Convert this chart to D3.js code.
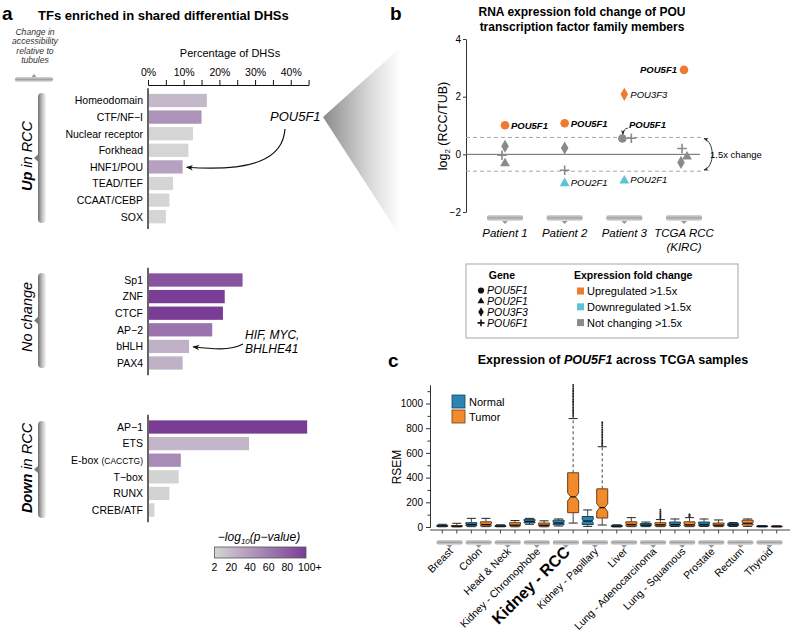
<!DOCTYPE html>
<html><head><meta charset="utf-8">
<script src="https://cdn.jsdelivr.net/npm/d3@7"></script>
<style>
body{margin:0;background:#fff;}
svg{display:block;font-family:"Liberation Sans",Arial,Helvetica,sans-serif;}
</style></head><body>
<svg id="fig" width="791" height="639"></svg>
<script>
// ---------------- DATA ----------------
// Panel a
const upCats = ["Homeodomain","CTF/NF\u2212I","Nuclear receptor","Forkhead","HNF1/POU","TEAD/TEF","CCAAT/CEBP","SOX"];
const upPct = [16.5, 15.0, 12.6, 11.3, 9.7, 7.0, 6.0, 5.0];
const upLogP = [20, 45, 2, 2, 35, 2, 2, 2];
const noCats = ["Sp1","ZNF","CTCF","AP\u22122","bHLH","PAX4"];
const noPct = [26.5, 21.5, 21.0, 18.0, 11.5, 9.7];
const noLogP = [85, 100, 100, 65, 25, 25];
const downCats = ["AP\u22121","ETS","E-box","T\u2212box","RUNX","CREB/ATF"];
const downPct = [44.6, 28.3, 9.2, 8.6, 6.0, 1.8];
const downLogP = [100, 22, 50, 3, 3, 3];
const pctTicks = [0, 10, 20, 30, 40];
const logPTicks = [2, 20, 40, 60, 80, 100];

// Panel b
const samples = ["Patient 1","Patient 2","Patient 3","TCGA RCC"];
const genes = ["POU5F1","POU2F1","POU3F3","POU6F1"];
const foldPOU5F1 = [1.01, 1.08, 0.55, 2.93];
const foldPOU2F1 = [-0.28, -0.97, -0.88, -0.05];
const foldPOU3F3 = [0.28, 0.22, 2.08, -0.28];
const foldPOU6F1 = [-0.03, -0.55, 0.56, 0.20];
const foldTicks = [-2, 0, 2, 4];

// Panel c  [low whisker, q1, median, q3, high whisker]
const tissues = ["Breast","Colon","Head & Neck","Kidney - Chromophobe","Kidney - RCC","Kidney - Papillary","Liver","Lung - Adenocarcinoma","Lung - Squamous","Prostate","Rectum","Thyroid"];
const normalStats = [[2,5,9,14,22],[3,10,20,35,70],[2,4,7,11,18],[22,33,45,62,70],[8,18,32,55,65],[5,20,48,85,138],[1,3,6,12,18],[3,8,15,28,40],[4,10,20,40,65],[4,10,20,40,65],[4,11,18,28,36],[1,3,5,8,12]];
const tumorStats = [[1,3,6,12,30],[3,8,20,42,70],[2,8,15,35,52],[2,8,14,32,50],[32,116,244,439,878],[16,73,157,309,650],[3,8,20,42,76],[3,8,18,35,60],[3,8,18,42,76],[3,8,15,32,57],[5,16,30,55,65],[1,2,4,6,10]];
const outliersKidneyRCC = [892,906,919,931,944,956,969,981,994,1006,1019,1031,1044,1057,1069,1082,1095,1108,1121,1135,1150];
const outliersKidneyPap = [662,674,687,699,712,724,737,750,763,777,791,806,821,835,848];
const outliersLungAdeno = [66,76,86,95,106,114,126,140];
const outliersLungSq = [82,89,96,103];
const rsemTicks = [0, 200, 400, 600, 800, 1000];

// ---------------- SETUP ----------------
const svg = d3.select("#fig");
const defs = svg.append("defs");
function grad(id, x2, y2, stops){
  const g = defs.append("linearGradient").attr("id", id).attr("x1",0).attr("y1",0).attr("x2",x2).attr("y2",y2);
  stops.forEach(s => g.append("stop").attr("offset", s[0]).attr("stop-color", s[1]).attr("stop-opacity", s[2]===undefined?1:s[2]));
}
grad("gV", 1, 0, [[0,"#6f6f6f"],[0.45,"#b8b8b8"],[1,"#f6f6f6"]]);
grad("gH", 0, 1, [[0,"#d8d8d8"],[0.5,"#a3a3a3"],[1,"#e6e6e6"]]);
grad("gWedge", 1, 0, [[0,"#8a8a8a"],[0.6,"#d8d8d8"],[1,"#ffffff"]]);
const arrowM = defs.append("marker").attr("id","arr").attr("viewBox","0 0 10 10").attr("refX",9).attr("refY",5)
  .attr("markerWidth",7).attr("markerHeight",7).attr("orient","auto-start-reverse").attr("markerUnits","userSpaceOnUse");
arrowM.append("path").attr("d","M0,1 L10,5 L0,9 L3,5 Z").attr("fill","#111");
const arrowS = defs.append("marker").attr("id","arrs").attr("viewBox","0 0 10 10").attr("refX",9).attr("refY",5)
  .attr("markerWidth",5).attr("markerHeight",5).attr("orient","auto-start-reverse").attr("markerUnits","userSpaceOnUse");
arrowS.append("path").attr("d","M0,1 L10,5 L0,9 L3,5 Z").attr("fill","#222");

function hBracket(g, cx, y, w, h, up){
  g.append("rect").attr("x",cx-w/2).attr("y",y).attr("width",w).attr("height",h).attr("rx",2).attr("fill","url(#gH)");
  if(up) g.append("path").attr("d",`M${cx-2.5},${y} L${cx},${y-3} L${cx+2.5},${y}Z`).attr("fill","#9a9a9a");
  else g.append("path").attr("d",`M${cx-3},${y+h} L${cx},${y+h+3} L${cx+3},${y+h}Z`).attr("fill","#9a9a9a");
}
function vBrace(g, x, top, bot){
  g.append("rect").attr("x",x).attr("y",top).attr("width",8).attr("height",bot-top).attr("rx",4).attr("fill","url(#gV)");
  const m=(top+bot)/2;
  g.append("path").attr("d",`M${x+0.5},${m-4} L${x-4},${m} L${x+0.5},${m+4}Z`).attr("fill","#7a7a7a");
}

// ---------------- PANEL A ----------------
const A = svg.append("g");
A.append("text").attr("x",2).attr("y",20).attr("font-size",19).attr("font-weight","bold").text("a");
A.append("text").attr("x",38).attr("y",20).attr("font-size",13).attr("font-weight","bold").text("TFs enriched in shared differential DHSs");
["Change in","accessibility","relative to","tubules"].forEach((t,i)=>
  A.append("text").attr("x",35).attr("y",35+i*9.4).attr("text-anchor","middle").attr("font-size",8.6).attr("font-style","italic").attr("fill","#333").text(t));
hBracket(A, 34, 77, 38, 5, true);
A.append("text").attr("x",230).attr("y",57).attr("text-anchor","middle").attr("font-size",11).text("Percentage of DHSs");

// wedge toward panel b
A.append("path").attr("d","M323,117 L400,48 L400,236 Z").attr("fill","url(#gWedge)");

const xA = d3.scaleLinear().domain([0,45]).range([148, 308.6]);
const pColor = d3.scaleLinear().domain([2,100]).range(["#d5d5d5","#7a3d96"]).clamp(true);

A.append("g").attr("transform","translate(0,85)")
  .call(d3.axisTop(xA).tickValues(pctTicks).tickFormat(d=>d+"%").tickSize(5).tickSizeOuter(0).tickPadding(4));
A.append("g").attr("transform","translate(0,85)")
  .call(d3.axisTop(xA).tickValues([5,15,25,35,45]).tickFormat("").tickSize(5).tickSizeOuter(0));
A.selectAll(".tick text").attr("font-size",10.5).attr("font-family","Liberation Sans, Arial, sans-serif");
A.selectAll(".domain, .tick line").attr("stroke","#111");

function barGroup(cats, pct, lp, top){
  const y = d3.scaleBand().domain(cats).range([top, top + cats.length*16.6]).paddingInner(0.2).paddingOuter(0.1);
  const g = A.append("g");
  g.selectAll("rect.bar").data(cats).join("rect").attr("class","bar")
    .attr("x", xA(0)+1).attr("y", d=>y(d)).attr("height", y.bandwidth())
    .attr("width", (d,i)=> xA(pct[i]) - xA(0) - 1).attr("fill", (d,i)=> pColor(lp[i]));
  g.selectAll("text.lab").data(cats).join("text").attr("class","lab")
    .attr("x",143).attr("y", d=> y(d)+y.bandwidth()/2+3.8).attr("text-anchor","end").attr("font-size",10.5)
    .each(function(d){
      const t=d3.select(this);
      t.text(d);
      if(d==="E-box"){ t.text("E-box "); t.append("tspan").attr("font-size",8.5).text("(CACCTG)"); }
    });
  g.append("line").attr("x1",xA(0)).attr("x2",xA(0)).attr("y1",top-4).attr("y2",top+cats.length*16.6+4).attr("stroke","#111").attr("stroke-width",1.3);
  return y;
}
const yUp = barGroup(upCats, upPct, upLogP, 92.2);
const yNo = barGroup(noCats, noPct, noLogP, 271.7);
const yDown = barGroup(downCats, downPct, downLogP, 418.7);

vBrace(A, 38, 93, 223);
vBrace(A, 38, 273, 368);
vBrace(A, 38, 421, 518);
function sideLabel(cy, bold, rest){
  const t = A.append("text").attr("transform",`translate(32,${cy}) rotate(-90)`).attr("text-anchor","middle").attr("font-size",14.5).attr("font-style","italic");
  if(bold) t.append("tspan").attr("font-weight","bold").text(bold+" ");
  t.append("tspan").text(rest);
}
sideLabel(156, "Up", "in RCC");
sideLabel(317, null, "No change");
sideLabel(468, "Down", "in RCC");

A.append("text").attr("x",270).attr("y",121).attr("font-size",13).attr("font-style","italic").text("POU5F1");
A.append("path").attr("d",`M285,129 C283,158 255,172 ${xA(upPct[4])+4},${yUp("HNF1/POU")+7}`).attr("fill","none").attr("stroke","#111").attr("stroke-width",1.2).attr("marker-end","url(#arr)");
A.append("text").attr("x",245).attr("y",339).attr("font-size",12).attr("font-style","italic").text("HIF, MYC,");
A.append("text").attr("x",245).attr("y",353).attr("font-size",12).attr("font-style","italic").text("BHLHE41");
A.append("path").attr("d",`M243,344 C230,351 212,349 ${xA(noPct[4])+4},${yNo("bHLH")+7}`).attr("fill","none").attr("stroke","#111").attr("stroke-width",1.2).attr("marker-end","url(#arr)");

// color legend
const lgX = d3.scaleLinear().domain([2,100]).range([214.5,306]);
grad("gLeg", 1, 0, d3.range(0,1.01,0.1).map(t=>[t, pColor(2+98*t)]));
const tl = A.append("text").attr("x",259).attr("y",541).attr("text-anchor","middle").attr("font-size",12).attr("font-style","italic");
tl.append("tspan").text("\u2212log");
tl.append("tspan").attr("font-size",8).attr("dy",3).text("10");
tl.append("tspan").attr("dy",-3).text("(p\u2212value)");
A.append("rect").attr("x",lgX(2)).attr("y",547).attr("width",lgX(100)-lgX(2)).attr("height",11).attr("fill","url(#gLeg)").attr("stroke","#555").attr("stroke-width",0.8);
A.selectAll("text.lgt").data(logPTicks).join("text").attr("class","lgt")
  .attr("x", d=> d===100 ? lgX(d)-8 : lgX(d)).attr("y",571).attr("font-size",10.5)
  .attr("text-anchor", d=> d===100 ? "start":"middle").text(d=> d===100 ? "100+" : d);

// ---------------- PANEL B ----------------
const B = svg.append("g");
B.append("text").attr("x",390).attr("y",20).attr("font-size",19).attr("font-weight","bold").text("b");
B.append("text").attr("x",582).attr("y",16).attr("text-anchor","middle").attr("font-size",12).attr("font-weight","bold").text("RNA expression fold change of POU");
B.append("text").attr("x",582).attr("y",31).attr("text-anchor","middle").attr("font-size",12).attr("font-weight","bold").text("transcription factor family members");

const xB = d3.scalePoint().domain(samples).range([505, 684]);
const yB = d3.scaleLinear().domain([-2,4]).range([212, 39]);
const axB = B.append("g").attr("transform","translate(466,0)").call(d3.axisLeft(yB).tickValues(foldTicks).tickFormat(d3.format("d")).tickSize(3).tickSizeOuter(0).tickPadding(2));
axB.selectAll("text").attr("font-size",10).attr("font-family","Liberation Sans, Arial, sans-serif");
axB.selectAll(".domain, .tick line").attr("stroke","#333");
const yl = B.append("text").attr("transform","translate(447,126) rotate(-90)").attr("text-anchor","middle").attr("font-size",12.5);
yl.append("tspan").text("log");
yl.append("tspan").attr("font-size",8).attr("dy",3).text("2");
yl.append("tspan").attr("dy",-3).text(" (RCC/TUB)");

const thr = Math.log2(1.5);
B.append("line").attr("x1",466).attr("x2",700).attr("y1",yB(0)).attr("y2",yB(0)).attr("stroke","#666").attr("stroke-width",1);
[thr,-thr].forEach(v=> B.append("line").attr("x1",466).attr("x2",703).attr("y1",yB(v)).attr("y2",yB(v)).attr("stroke","#a8a8a8").attr("stroke-dasharray","4,3").attr("stroke-width",1));
B.append("path").attr("d",`M704,${yB(thr)+1} C715,${yB(thr)+5} 715,${yB(-thr)-5} 704,${yB(-thr)-1}`).attr("fill","none").attr("stroke","#222").attr("stroke-width",0.9)
  .attr("marker-start","url(#arrs)").attr("marker-end","url(#arrs)");
B.append("text").attr("x",710).attr("y",158).attr("font-size",9.5).text("1.5x change");

samples.forEach(s=> hBracket(B, xB(s), 215, 36, 6, false));
samples.forEach(s=>{
  B.append("text").attr("x",xB(s)).attr("y",237).attr("text-anchor","middle").attr("font-size",11.5).attr("font-style","italic").text(s);
  if(s==="TCGA RCC") B.append("text").attr("x",xB(s)).attr("y",251).attr("text-anchor","middle").attr("font-size",11.5).attr("font-style","italic").text("(KIRC)");
});

const foldByGene = {POU5F1: foldPOU5F1, POU2F1: foldPOU2F1, POU3F3: foldPOU3F3, POU6F1: foldPOU6F1};
const colUp = "#ee7b32", colDown = "#5cc3d7", colNo = "#8a8a8a";
const fcColor = v => v > thr ? colUp : (v < -thr ? colDown : colNo);
const jitter = {"Patient 1":{POU6F1:-3},"Patient 3":{POU5F1:-2,POU6F1:7},"TCGA RCC":{POU6F1:-2,POU3F3:-3,POU2F1:3}};
const symType = {POU5F1:d3.symbolCircle, POU2F1:d3.symbolTriangle, POU3F3:d3.symbolDiamond};
const symSize = {POU5F1:58, POU2F1:42, POU3F3:50};
function drawSym(g, gene, x, y, color, scale){
  if(gene==="POU6F1"){
    const r = 4.8*scale;
    g.append("path").attr("d",`M${x-r},${y} H${x+r} M${x},${y-r} V${y+r}`).attr("stroke",color).attr("stroke-width",1.6);
  } else {
    g.append("path").attr("transform",`translate(${x},${y})`).attr("d",d3.symbol(symType[gene], symSize[gene]*scale*scale)()).attr("fill",color);
  }
}
samples.forEach((s,i)=>{
  genes.forEach(gn=>{
    const v = foldByGene[gn][i];
    const dx = (jitter[s] && jitter[s][gn]) || 0;
    drawSym(B, gn, xB(s)+dx, yB(v)+(gn==="POU2F1"?1:0), fcColor(v), 1);
    if(fcColor(v)!==colNo){
      const bold = gn==="POU5F1";
      const left = s==="TCGA RCC";
      B.append("text").attr("x", left ? xB(s)-7 : xB(s)+6).attr("y", yB(v)+3.5)
        .attr("text-anchor", left ? "end":"start").attr("font-size",9.5).attr("font-style","italic")
        .attr("font-weight", bold?"bold":"normal").text(gn);
    }
  });
});
B.append("text").attr("x",629).attr("y",127.5).attr("font-size",9.5).attr("font-style","italic").attr("font-weight","bold").text("POU5F1");
B.append("path").attr("d",`M628,128 Q623,129 ${xB("Patient 3")-1.5},${yB(foldPOU5F1[2])-4}`).attr("fill","none").attr("stroke","#222").attr("stroke-width",0.8).attr("marker-end","url(#arrs)");

// legend box
B.append("rect").attr("x",466).attr("y",264).attr("width",272).attr("height",74).attr("fill","#fff").attr("stroke","#b5b5b5").attr("stroke-width",1.2);
B.append("text").attr("x",502).attr("y",279).attr("text-anchor","middle").attr("font-size",10.5).attr("font-weight","bold").text("Gene");
genes.forEach((gn,i)=>{
  const cy = 290.5 + i*10.8;
  drawSym(B, gn, 481, cy, "#111", 0.72);
  B.append("text").attr("x",487).attr("y",cy+3.8).attr("font-size",10.5).attr("font-style","italic").text(gn);
});
B.append("text").attr("x",574).attr("y",279).attr("font-size",10.5).attr("font-weight","bold").text("Expression fold change");
[[colUp,"Upregulated >1.5x"],[colDown,"Downregulated >1.5x"],[colNo,"Not changing >1.5x"]].forEach((d,i)=>{
  const cy = 291 + i*15.8;
  B.append("rect").attr("x",577).attr("y",cy-3.5).attr("width",7).attr("height",7).attr("fill",d[0]);
  B.append("text").attr("x",587).attr("y",cy+4).attr("font-size",11).text(d[1]);
});

// ---------------- PANEL C ----------------
const C = svg.append("g");
C.append("text").attr("x",388).attr("y",367).attr("font-size",19).attr("font-weight","bold").text("c");
const ct = C.append("text").attr("x",613).attr("y",364).attr("text-anchor","middle").attr("font-size",12.5).attr("font-weight","bold");
ct.append("tspan").text("Expression of ");
ct.append("tspan").attr("font-style","italic").text("POU5F1");
ct.append("tspan").text(" across TCGA samples");

const boxKeys = [];
tissues.forEach(t=>{ boxKeys.push(t+"|N"); boxKeys.push(t+"|T"); });
const xC = d3.scaleBand().domain(boxKeys).range([435, 784]);
const yC = d3.scaleLinear().domain([0,1150]).range([527, 385]);
const axC = C.append("g").attr("transform","translate(430,0)").call(d3.axisLeft(yC).tickValues(rsemTicks).tickFormat(d3.format("d")).tickSize(4).tickSizeOuter(0).tickPadding(3));
C.append("g").attr("transform","translate(430,0)").call(d3.axisLeft(yC).tickValues([100,300,500,700,900,1100]).tickSize(2.5).tickSizeOuter(0).tickFormat(""));
axC.selectAll("text").attr("font-size",10).attr("font-family","Liberation Sans, Arial, sans-serif");
C.selectAll(".domain, .tick line").attr("stroke","#333");
C.append("text").attr("transform","translate(401,467) rotate(-90)").attr("text-anchor","middle").attr("font-size",12).text("RSEM");
C.append("line").attr("x1",430).attr("x2",790).attr("y1",530).attr("y2",530).attr("stroke","#444").attr("stroke-width",1);
C.selectAll("line.xt").data(boxKeys).join("line").attr("class","xt")
  .attr("x1",d=>xC(d)+xC.bandwidth()/2).attr("x2",d=>xC(d)+xC.bandwidth()/2).attr("y1",530).attr("y2",533.5).attr("stroke","#444");

const colNormal = "#2b85b2", colTumor = "#f28a2e";
const outlierMap = {"Kidney - RCC|T": outliersKidneyRCC, "Kidney - Papillary|T": outliersKidneyPap, "Lung - Adenocarcinoma|T": outliersLungAdeno, "Lung - Squamous|T": outliersLungSq};
function drawBox(key, st){
  const isT = key.endsWith("|T");
  const cx = xC(key) + xC.bandwidth()/2, hw = 5.5, nIn = 3;
  const [lo,q1,md,q3,hi] = st;
  const g = C.append("g");
  const fill = isT ? colTumor : colNormal, stroke = isT ? "#6e3c14" : "#17445c";
  g.append("line").attr("x1",cx).attr("x2",cx).attr("y1",yC(q3)).attr("y2",yC(hi)).attr("stroke","#333").attr("stroke-dasharray", (yC(q3)-yC(hi))>12?"3,2.5":null).attr("stroke-width",0.9);
  g.append("line").attr("x1",cx).attr("x2",cx).attr("y1",yC(q1)).attr("y2",yC(lo)).attr("stroke","#333").attr("stroke-dasharray", (yC(lo)-yC(q1))>12?"3,2.5":null).attr("stroke-width",0.9);
  g.append("line").attr("x1",cx-4.5).attr("x2",cx+4.5).attr("y1",yC(hi)).attr("y2",yC(hi)).attr("stroke","#222").attr("stroke-width",1);
  g.append("line").attr("x1",cx-4.5).attr("x2",cx+4.5).attr("y1",yC(lo)).attr("y2",yC(lo)).attr("stroke","#222").attr("stroke-width",1);
  const yT = yC(q3), yB2 = yC(q1), yM = yC(md);
  const nh = Math.min(4, (yB2-yT)*0.2);
  const p = `M${cx-hw},${yT} H${cx+hw} V${yM-nh} L${cx+hw-nIn*(nh/4)},${yM} L${cx+hw},${yM+nh} V${yB2} H${cx-hw} V${yM+nh} L${cx-hw+nIn*(nh/4)},${yM} L${cx-hw},${yM-nh} Z`;
  g.append("path").attr("d",p).attr("fill",fill).attr("stroke",stroke).attr("stroke-width",1);
  g.append("line").attr("x1",cx-hw+nIn*(nh/4)).attr("x2",cx+hw-nIn*(nh/4)).attr("y1",yM).attr("y2",yM).attr("stroke","#111").attr("stroke-width",1.3);
  const outs = outlierMap[key] || [];
  g.selectAll("circle").data(outs).join("circle").attr("cx",cx).attr("cy",d=>yC(d)).attr("r",0.95).attr("fill","#222");
}
tissues.forEach((t,i)=>{ drawBox(t+"|N", normalStats[i]); drawBox(t+"|T", tumorStats[i]); });

[[colNormal,"#17445c","Normal"],[colTumor,"#6e3c14","Tumor"]].forEach((d,i)=>{
  C.append("rect").attr("x",452).attr("y",395+i*15).attr("width",13).attr("height",13).attr("fill",d[0]).attr("stroke",d[1]).attr("stroke-width",0.8);
  C.append("text").attr("x",469).attr("y",406+i*15).attr("font-size",11).text(d[2]);
});
tissues.forEach(t=>{
  const cx = xC(t+"|N") + xC.bandwidth();
  hBracket(C, cx, 540, 26, 5, false);
  const big = t==="Kidney - RCC";
  C.append("text").attr("transform",`translate(${cx+ (big?5:4)},${big?553:552}) rotate(-45)`).attr("text-anchor","end")
    .attr("font-size", big?16:10.5).attr("font-weight", big?"bold":"normal").text(t);
});
</script>
</body></html>
